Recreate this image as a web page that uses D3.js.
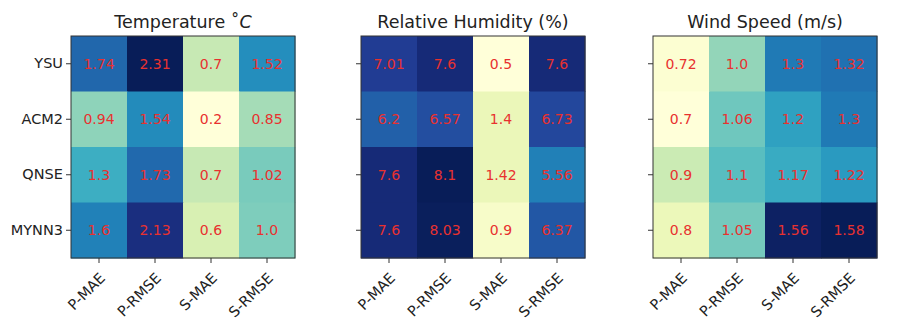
<!DOCTYPE html>
<html>
<head>
<meta charset="utf-8">
<script src="https://cdn.jsdelivr.net/npm/d3@7"></script>
<style>
  body { margin: 0; background: #fff; }
  text { font-family: "DejaVu Sans", sans-serif; }
</style>
</head>
<body>
<svg id="chart" width="913" height="320"></svg>
<script>
// schemes (rows) and metrics (columns)
var schemes = ["YSU", "ACM2", "QNSE", "MYNN3"];
var metrics = ["P-MAE", "P-RMSE", "S-MAE", "S-RMSE"];

// values per panel, one row per scheme
var tempVals = [
  [1.74, 2.31, 0.7, 1.52],
  [0.94, 1.54, 0.2, 0.85],
  [1.3, 1.73, 0.7, 1.02],
  [1.6, 2.13, 0.6, 1.0]
];
var rhVals = [
  [7.01, 7.6, 0.5, 7.6],
  [6.2, 6.57, 1.4, 6.73],
  [7.6, 8.1, 1.42, 5.56],
  [7.6, 8.03, 0.9, 6.37]
];
var windVals = [
  [0.72, 1.0, 1.3, 1.32],
  [0.7, 1.06, 1.2, 1.3],
  [0.9, 1.1, 1.17, 1.22],
  [0.8, 1.05, 1.56, 1.58]
];
// [text, italic part]
var titles = [["Temperature \u02DA", "C"], ["Relative Humidity (%)", ""], ["Wind Speed (m/s)", ""]];

var panels = [
  {title: titles[0], vals: tempVals, left: 71},
  {title: titles[1], vals: rhVals, left: 361},
  {title: titles[2], vals: windVals, left: 653}
];

var svg = d3.select("#chart");
var plotTop = 36, w = 224, h = 222;

panels.forEach(function(p, pi) {
  var g = svg.append("g").attr("transform", "translate(" + p.left + "," + plotTop + ")");

  var x = d3.scaleBand().domain(metrics).range([0, w]);
  var y = d3.scaleBand().domain(schemes).range([0, h]);

  var flat = [];
  p.vals.forEach(function(row, ri) {
    row.forEach(function(v, ci) {
      flat.push({s: schemes[ri], m: metrics[ci], v: v});
    });
  });
  var ext = d3.extent(flat, d => d.v);
  var color = d3.scaleSequential(d3.interpolateYlGnBu).domain(ext);

  // 셀
  g.selectAll("rect.cell")
    .data(flat)
    .enter()
    .append("rect")
    .attr("class", "cell")
    .attr("x", d => x(d.m))
    .attr("y", d => y(d.s))
    .attr("width", x.bandwidth() + 0.5)
    .attr("height", y.bandwidth() + 0.5)
    .attr("fill", d => color(d.v));

  // 값 텍스트
  g.selectAll("text.val")
    .data(flat)
    .enter()
    .append("text")
    .attr("class", "val")
    .attr("x", d => x(d.m) + x.bandwidth() / 2)
    .attr("y", d => y(d.s) + y.bandwidth() / 2)
    .attr("text-anchor", "middle")
    .attr("dominant-baseline", "central")
    .attr("font-size", 14)
    .attr("fill", "#e8312f")
    .text(d => Number.isInteger(d.v) ? d.v.toFixed(1) : String(d.v));

  // 테두리
  g.append("rect")
    .attr("width", w).attr("height", h)
    .attr("fill", "none").attr("stroke", "#333").attr("stroke-width", 1);

  // x축
  var xAxis = g.append("g")
    .attr("transform", "translate(0," + h + ")")
    .call(d3.axisBottom(x).tickSize(5).tickSizeOuter(0));
  xAxis.select(".domain").remove();
  xAxis.selectAll(".tick line").attr("stroke", "#333");
  xAxis.selectAll(".tick text")
    .attr("font-size", 14.5)
    .attr("fill", "#222")
    .attr("text-anchor", "end")
    .attr("x", 0)
    .attr("y", 0)
    .attr("dy", 0)
    .attr("transform", "translate(7,21) rotate(-45)");

  // y축
  var yAxis = g.append("g")
    .call(d3.axisLeft(y).tickSize(5).tickPadding(3).tickSizeOuter(0)
      .tickFormat(pi == 0 ? null : ""));
  yAxis.select(".domain").remove();
  yAxis.selectAll(".tick line").attr("stroke", "#333");
  yAxis.selectAll(".tick text").attr("font-size", 14.5).attr("fill", "#222");

  // 제목
  var t = g.append("text")
    .attr("x", w / 2)
    .attr("y", -8)
    .attr("text-anchor", "middle")
    .attr("font-size", 17.5)
    .attr("fill", "#222");
  t.append("tspan").text(p.title[0]);
  if (p.title[1]) t.append("tspan").attr("font-style", "italic").text(p.title[1]);
});
</script>
</body>
</html>
